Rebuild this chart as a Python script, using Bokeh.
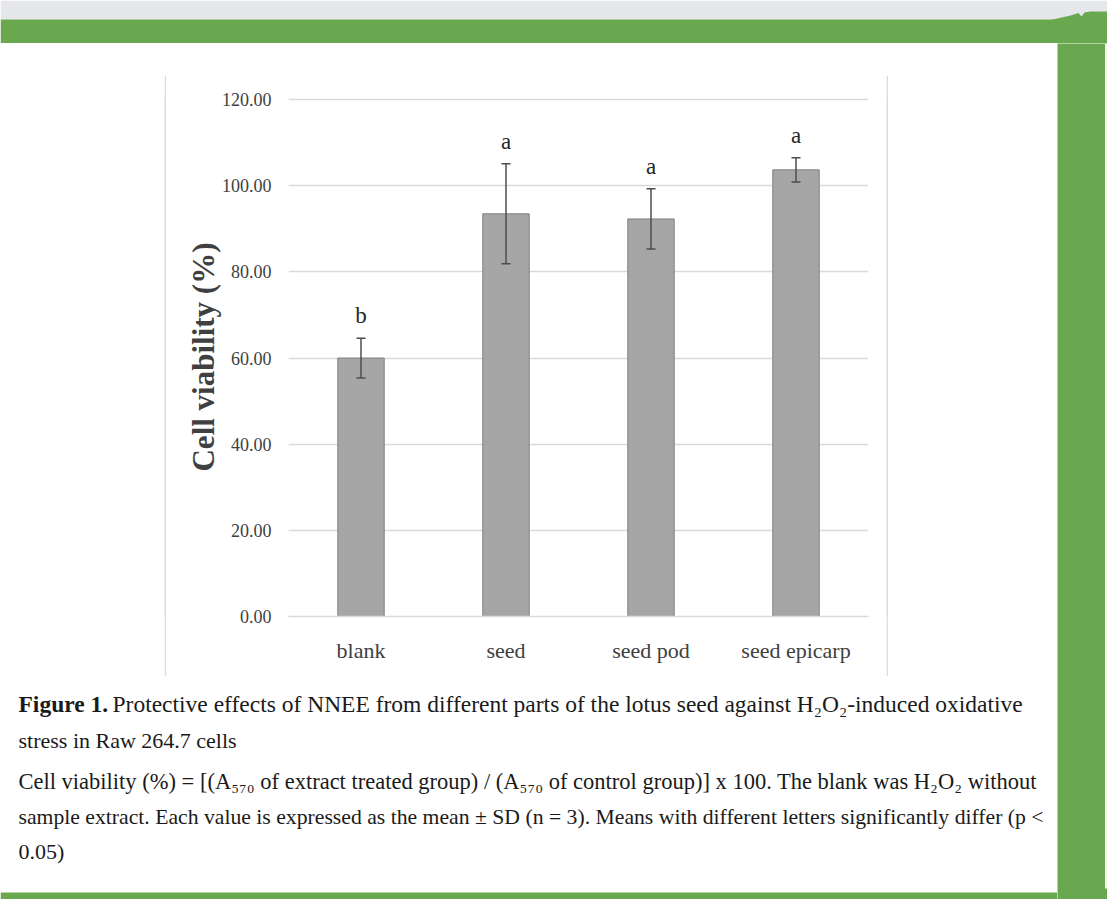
from bokeh.plotting import figure
from bokeh.layouts import column, row
from bokeh.models import (ColumnDataSource, Range1d, FactorRange, FixedTicker,
                          PrintfTickFormatter, Whisker, TeeHead, Spacer)
from bokeh.core.properties import value
from bokeh.embed import file_html
from bokeh.resources import INLINE

# ---------------- data ----------------
categories = ["blank", "seed", "seed pod", "seed epicarp"]
means = [60.0, 93.5, 92.3, 103.7]
sds = [4.6, 11.6, 7.0, 2.8]
letters = ["b", "a", "a", "a"]
y_ticks = [0, 20, 40, 60, 80, 100, 120]
y_label = "Cell viability (%)"
fig_label = "Figure 1."
caption_title_rest = "Protective effects of NNEE from different parts of the lotus seed against H\u2082O\u2082-induced oxidative"
caption_title_line2 = "stress in Raw 264.7 cells"
caption_notes = [
    "Cell viability (%) = [(A\u2085\u2087\u2080 of extract treated group) / (A\u2085\u2087\u2080 of control group)] x 100. The blank was H\u2082O\u2082 without",
    "sample extract. Each value is expressed as the mean \u00b1 SD (n = 3). Means with different letters significantly differ (p <",
    "0.05)",
]

GREEN = "#6aa84f"
BOXGREY = "#dcdcdc"
SERIF = "Liberation Serif"

upper = [m + s for m, s in zip(means, sds)]
lower = [m - s for m, s in zip(means, sds)]
src = ColumnDataSource(dict(cat=categories, mean=means, upper=upper, lower=lower, letter=letters))


def blank_fig(w, h, x0=0, x1=1, y0=0, y1=1, bg="white"):
    f = figure(width=w, height=h, x_range=Range1d(x0, x1), y_range=Range1d(y1, y0),
               x_axis_type=None, y_axis_type=None, output_backend="svg",
               toolbar_location=None, tools="", min_border=0)
    f.outline_line_color = None
    f.background_fill_color = bg
    f.border_fill_color = bg
    f.grid.visible = False
    return f


# ---- header (page y 0..43) ----
header = blank_fig(1107, 43, 0, 1107, 0, 43)
header.quad(left=[0], right=[1107], top=[0], bottom=[19], fill_color="#e6e7eb", line_color=None)
header.quad(left=[0], right=[1107], top=[19], bottom=[43], fill_color=GREEN, line_color=None)
header.patch(x=[1050, 1070, 1078, 1081, 1084, 1090, 1107, 1107],
             y=[19.5, 15, 12.5, 16, 12, 11, 11, 19.5], fill_color=GREEN, line_color=None)

# ---- right green column (x 1057..1107, y 43..899) ----
right = blank_fig(50, 856, 1057, 1107, 43, 899, bg=GREEN)
right.quad(left=[1104.5], right=[1107], top=[43], bottom=[888], fill_color="#f4f6f2", line_color=None)

# ---- chart (inside box x 166..886, y 75..676) ----
E = 2  # box edge thickness
CW, CH = 724 - 2 * E, 605 - 2 * E
chart = figure(width=CW, height=CH, x_range=FactorRange(*categories), y_range=Range1d(0, 120.5),
               output_backend="svg", toolbar_location=None, tools="",
               min_border_left=122, min_border_right=18, min_border_top=22, min_border_bottom=60)
chart.outline_line_color = None
chart.background_fill_color = "white"
chart.border_fill_color = "white"

chart.vbar(x="cat", top="mean", width=0.32, source=src, fill_color="#a6a6a6",
           line_color="#7f7f7f", line_width=1)

w = Whisker(base="cat", upper="upper", lower="lower", source=src, line_color="#4d4d4d",
            line_width=1.5, level="annotation")
w.upper_head = TeeHead(size=9, line_color="#4d4d4d", line_width=1.5)
w.lower_head = TeeHead(size=9, line_color="#4d4d4d", line_width=1.5)
chart.add_layout(w)

chart.text(x="cat", y="upper", text="letter", source=src, text_align="center", text_baseline="bottom",
           y_offset=-10, text_font=value(SERIF), text_font_size="23px", text_color="#262626")

chart.yaxis.ticker = FixedTicker(ticks=y_ticks)
chart.yaxis.formatter = PrintfTickFormatter(format="%.2f")
chart.yaxis.axis_line_color = None
chart.yaxis.major_tick_line_color = None
chart.yaxis.minor_tick_line_color = None
chart.yaxis.major_tick_out = 0
chart.yaxis.major_tick_in = 0
chart.yaxis.major_label_standoff = 17
chart.yaxis.major_label_text_font = SERIF
chart.yaxis.major_label_text_font_size = "18px"
chart.yaxis.major_label_text_color = "#404040"
chart.yaxis.axis_label = y_label
chart.yaxis.axis_label_text_font = SERIF
chart.yaxis.axis_label_text_font_style = "bold"
chart.yaxis.axis_label_text_font_size = "31px"
chart.yaxis.axis_label_text_color = "#404040"
chart.yaxis.axis_label_standoff = -2

chart.xaxis.axis_line_color = "#d9d9d9"
chart.xaxis.axis_line_width = 1.3
chart.xaxis.major_tick_line_color = None
chart.xaxis.minor_tick_line_color = None
chart.xaxis.major_tick_out = 0
chart.xaxis.major_tick_in = 0
chart.xaxis.major_label_standoff = 21
chart.xaxis.major_label_text_font = SERIF
chart.xaxis.major_label_text_font_size = "22px"
chart.xaxis.major_label_text_color = "#404040"

chart.ygrid.grid_line_color = "#d9d9d9"
chart.ygrid.grid_line_width = 1.3
chart.xgrid.grid_line_color = None

# grey edges forming the chart box (x 164..888, y 73..678)
box_top = blank_fig(724, E, bg=BOXGREY)
box_bottom = blank_fig(724, E, bg=BOXGREY)
box_left = blank_fig(E, CH, bg=BOXGREY)
box_right = blank_fig(E, CH, bg=BOXGREY)
boxed_chart = column(box_top, row(box_left, chart, box_right), box_bottom)

# ---- caption (x 0..1057, y 678..899) ----
caption = blank_fig(1057, 221, 0, 1057, 678, 899)
caption.quad(left=[0], right=[1057], top=[892], bottom=[899], fill_color=GREEN, line_color=None)


def cap(text, x, y, size, bold=False):
    caption.text(x=[x], y=[y], text=[text], text_font=value(SERIF), text_font_size=size,
                 text_font_style="bold" if bold else "normal", text_baseline="alphabetic",
                 text_align="left", text_color="#1a1a1a")


cap(fig_label, 18, 703, "23.5px", bold=True)
cap(caption_title_rest, 112, 703, "23.5px")
cap(caption_title_line2, 18, 740, "22px")
note_sizes = ["22.5px", "21.7px", "22px"]
for i, line in enumerate(caption_notes):
    cap(line, 18, 781 + 35 * i, note_sizes[i])

content = column(
    Spacer(width=1057, height=30),
    row(Spacer(width=164, height=605), boxed_chart, Spacer(width=169, height=605)),
    caption,
)
layout = column(header, row(content, right))

open("out.html", "w").write(file_html(layout, INLINE))
